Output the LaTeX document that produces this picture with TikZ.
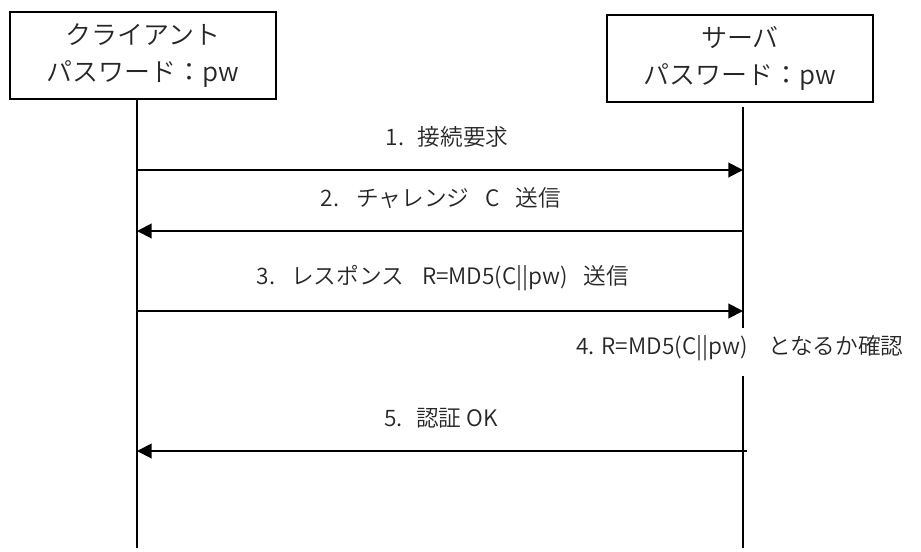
\documentclass[tikz,border=0pt]{standalone}
\usepackage{fontspec}
\setmainfont{Noto Sans CJK JP DemiLight}
\usetikzlibrary{arrows.meta}
\begin{document}
\begin{tikzpicture}[x=0.75pt,y=-0.75pt,
  actor/.style={draw=black,line width=0.9pt,minimum width=199.5pt,minimum height=65.25pt,
    align=center,inner sep=0pt,text=black!85,font=\fontsize{19.5}{28}\selectfont},
  life/.style={draw=black,line width=1.5pt},
  msg/.style={draw=black,line width=1.5pt,-{Triangle[length=11pt,width=11pt]}},
  lbl/.style={inner sep=0pt,font=\fontsize{17}{20}\selectfont,text=black!85}]
\useasboundingbox (0,0) rectangle (921,551);
% actors
\node[actor] (cbox) at (143,55.5) {クライアント\\パスワード：pw};
\node[actor] (sbox) at (740,58.5) {サーバ\\パスワード：pw};
% lifeline coordinates
\coordinate (ctop) at (137,99);
\coordinate (cbot) at (137,548);
\coordinate (stop) at (743,107);
\coordinate (sgap1) at (743,328);
\coordinate (sgap2) at (743,376);
\coordinate (sbot) at (743,548);
\draw[life] (ctop) -- (cbot);
\draw[life] (stop) -- (sgap1);
\draw[life] (sgap2) -- (sbot);
% message end points
\coordinate (c1) at (137,170); \coordinate (s1) at (743,170);
\coordinate (c2) at (137,231); \coordinate (s2) at (743,231);
\coordinate (c3) at (137,311); \coordinate (s3) at (743,311);
\coordinate (c5) at (137,451); \coordinate (s5) at (747,451);
\draw[msg] (c1) -- (s1);
\draw[msg] (s2) -- (c2);
\draw[msg] (c3) -- (s3);
\draw[msg] (s5) -- (c5);
% labels
\node[lbl] (l1) at (447,137) {1.\hspace{0.6em}接続要求};
\node[lbl] (l2) at (441,198) {2.\hspace{0.75em}チャレンジ\hspace{0.7em}C\hspace{0.7em}送信};
\node[lbl] (l3) at (443,278) {3.\hspace{0.7em}レスポンス\hspace{0.8em}R=MD5(C||pw)\hspace{0.7em}送信};
\node[lbl] (l4) at (740,348) {4. R=MD5(C||pw)\hspace{0.9em}となるか確認};
\node[lbl] (l5) at (441,418) {5.\hspace{0.6em}認証 OK};
\end{tikzpicture}
\end{document}
